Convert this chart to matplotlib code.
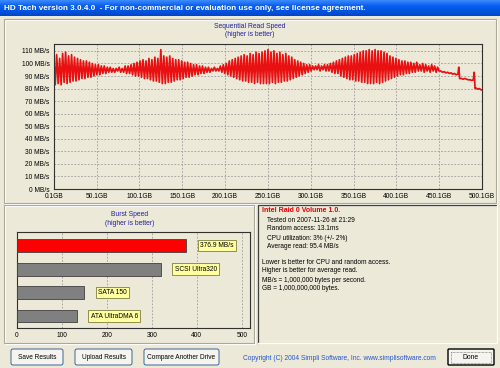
import numpy as np
import matplotlib.pyplot as plt
from matplotlib.patches import Rectangle, FancyBboxPatch
from matplotlib.colors import LinearSegmentedColormap

plt.rcParams['font.family'] = ['Liberation Sans', 'DejaVu Sans']

# sequential read, one peak and one trough reading per cycle (MB/s), 0.1GB .. ~450GB
seq_peaks = [105, 107, 104, 108, 109, 106, 107, 105, 104, 103,
             102, 102, 101, 100, 99, 99, 98, 98, 97, 97,
             96, 96, 97, 96, 98, 98, 99, 100, 101, 102,
             103, 102, 104, 103, 105, 104, 111, 106, 105, 106,
             104, 103, 103, 102, 101, 101, 100, 99, 99, 98,
             98, 97, 97, 96, 97, 96, 98, 99, 100, 102,
             103, 104, 105, 106, 107, 106, 108, 107, 109, 108,
             109, 110, 111, 109, 110, 108, 109, 107, 108, 106,
             105, 103, 102, 101, 100, 99, 99, 98, 98, 99,
             98, 99, 99, 100, 101, 102, 103, 104, 105, 106,
             106, 107, 108, 109, 110, 110, 111, 110, 111, 110,
             110, 109, 108, 106, 105, 104, 103, 102, 102, 101,
             101, 100, 101, 99, 100, 99, 98, 99, 98, 97]
seq_troughs = [83, 84, 83, 85, 84, 85, 86, 86, 87, 88,
               88, 89, 89, 90, 91, 91, 92, 92, 93, 93,
               93, 94, 93, 93, 92, 92, 91, 90, 90, 89,
               88, 88, 87, 86, 86, 85, 84, 84, 85, 85,
               86, 87, 87, 88, 89, 89, 90, 91, 91, 92,
               92, 93, 93, 94, 94, 94, 93, 92, 91, 90,
               89, 88, 87, 86, 86, 85, 85, 84, 85, 84,
               84, 84, 84, 85, 84, 85, 85, 86, 86, 87,
               88, 89, 90, 91, 92, 93, 94, 95, 95, 94,
               95, 94, 94, 93, 92, 92, 90, 89, 88, 87,
               87, 86, 86, 85, 85, 84, 84, 84, 85, 84,
               85, 86, 87, 88, 89, 90, 91, 91, 92, 92,
               93, 93, 94, 94, 93, 94, 93, 94, 93, 94]
# last part of the drive, no oscillation
tail_gb = [452, 454, 456, 458, 460, 462, 464, 466, 468, 470, 472, 473, 474, 476,
           478, 480, 482, 484, 486, 488, 490, 491, 492, 493, 495, 497, 499, 500.1]
tail_mbs = [94, 93, 93.5, 92.5, 93, 92, 92.5, 91.5, 92, 91, 91.5, 97, 88, 88,
            87.5, 88, 87.5, 87, 87, 86.5, 87, 93, 80, 80.5, 79.5, 80, 79, 79]

seq_yticks = [0, 10, 20, 30, 40, 50, 60, 70, 80, 90, 100, 110]
seq_xticks = [0.1, 50.1, 100.1, 150.1, 200.1, 250.1, 300.1, 350.1, 400.1, 450.1, 500.1]

burst_labels = ['376.9 MB/s', 'SCSI Ultra320', 'SATA 150', 'ATA UltraDMA 6']
burst_values = [376.9, 320, 150, 133]
burst_colors = ['#ff0000', '#808080', '#808080', '#808080']

info_head = 'Intel Raid 0 Volume 1.0.'
info_lines = ['Tested on 2007-11-26 at 21:29', 'Random access: 13.1ms',
              'CPU utilization: 3% (+/- 2%)', 'Average read: 95.4 MB/s']
note_lines = ['Lower is better for CPU and random access.', 'Higher is better for average read.',
              'MB/s = 1,000,000 bytes per second.', 'GB = 1,000,000,000 bytes.']
buttons = ['Save Results', 'Upload Results', 'Compare Another Drive']

W, H = 500, 368
BG = '#ece9d8'
fig = plt.figure(figsize=(5, 3.68), dpi=100)
fig.patch.set_facecolor(BG)

bg = fig.add_axes([0, 0, 1, 1])
bg.axis('off')


def px_axes(x0, y0, x1, y1):
    return fig.add_axes([x0 / W, 1 - y1 / H, (x1 - x0) / W, (y1 - y0) / H])


# title bar
cmap = LinearSegmentedColormap.from_list('xp', ['#3c8cfc', '#0c5ff0', '#0054e3', '#0046c8'])
bg.imshow(np.linspace(0, 1, 30)[:, None], extent=(0, W, 16, 0), cmap=cmap, aspect='auto', zorder=0)
bg.text(4, 8, 'HD Tach version 3.0.4.0  - For non-commercial or evaluation use only, see license agreement.',
        color='white', fontsize=5.9, fontweight='bold', va='center', ha='left')
bg.set_xlim(0, W)
bg.set_ylim(H, 0)


def etched(x0, y0, x1, y1):
    bg.add_patch(Rectangle((x0 + 1, y0 + 1), x1 - x0, y1 - y0, fill=False, ec='white', lw=0.8))
    bg.add_patch(Rectangle((x0, y0), x1 - x0, y1 - y0, fill=False, ec='#aca899', lw=0.8))


etched(4, 19, 496, 203)
etched(4, 205, 254, 343)

# info panel (sunken)
bg.add_patch(Rectangle((258, 205), 239, 138, fc=BG, ec='none'))
bg.plot([258, 258, 497], [343, 205, 205], color='#404040', lw=0.9)
bg.plot([258, 497, 497], [343, 343, 205], color='white', lw=0.9)
bg.text(262, 211, info_head, color='#e00000', fontsize=5.0, fontweight='bold', va='center')
for i, s in enumerate(info_lines):
    bg.text(267, 220 + 9 * i, s, fontsize=4.7, va='center')
for i, s in enumerate(note_lines):
    bg.text(262, 262 + 9 * i, s, fontsize=4.7, va='center')

# chart titles
bg.text(250, 27, 'Sequential Read Speed', color='#2020a0', fontsize=4.9, ha='center', va='center')
bg.text(250, 35, '(higher is better)', color='#2020a0', fontsize=4.9, ha='center', va='center')
bg.text(130, 215, 'Burst Speed', color='#2020a0', fontsize=4.9, ha='center', va='center')
bg.text(130, 223.5, '(higher is better)', color='#2020a0', fontsize=4.9, ha='center', va='center')

# buttons
for (x0, x1), s in zip([(11, 63), (75, 132), (144, 219)], buttons):
    bg.add_patch(FancyBboxPatch((x0, 349), x1 - x0, 16, boxstyle='round,pad=0,rounding_size=2',
                                fc='#f5f4ef', ec='#1c4f8a', lw=0.6))
    bg.text((x0 + x1) / 2, 357.5, s, fontsize=4.7, ha='center', va='center')
bg.add_patch(FancyBboxPatch((448, 349), 46, 16, boxstyle='round,pad=0,rounding_size=1',
                            fc='#f5f4ef', ec='#000000', lw=1.0))
bg.add_patch(Rectangle((451, 351.5), 40, 11, fill=False, ec='#606060', lw=0.5, ls=(0, (1, 1))))
bg.text(471, 357.5, 'Done', fontsize=4.9, ha='center', va='center')
bg.text(339, 358, 'Copyright (C) 2004 Simpli Software, Inc. www.simplisoftware.com',
        color='#2255cc', fontsize=4.8, ha='center', va='center')

# sequential read chart
ax = px_axes(53.7, 44, 482, 189)
y = np.column_stack([seq_peaks, seq_troughs]).ravel()
x = np.linspace(0.1, 450, len(y))
ax.plot(np.concatenate([x, tail_gb]), np.concatenate([y, tail_mbs]), color='#e81010', lw=1.25)
ax.set_facecolor(BG)
ax.set_xlim(0.1, 500.1)
ax.set_ylim(0, 115.5)
ax.set_yticks(seq_yticks)
ax.set_yticklabels([f'{v} MB/s' for v in seq_yticks])
ax.set_xticks(seq_xticks)
ax.set_xticklabels([f'{v}GB' for v in seq_xticks])
ax.tick_params(length=0, labelsize=4.8, pad=3)
ax.grid(True, color='#9a9a9a', lw=0.6, ls=(0, (2, 2)))
for sp in ax.spines.values():
    sp.set_color('#303030')
    sp.set_linewidth(0.8)

# burst speed chart
bx = px_axes(16.7, 231.7, 250, 328)
pos = np.arange(len(burst_values))
bx.barh(pos, burst_values, height=0.55, color=burst_colors, edgecolor='#404040', lw=0.6, zorder=3)
for p, v, s in zip(pos, burst_values, burst_labels):
    bx.text(v + 31, p, s, fontsize=4.8, va='center', ha='left', zorder=4,
            bbox=dict(boxstyle='square,pad=0.35', fc='#ffffa0', ec='#808040', lw=0.6))
bx.set_facecolor(BG)
bx.set_xlim(0, 518)
bx.set_ylim(3.51, -0.59)
bx.set_yticks([])
bx.set_xticks([0, 100, 200, 300, 400, 500])
bx.tick_params(length=0, labelsize=4.8, pad=3)
bx.grid(True, axis='x', color='#9a9a9a', lw=0.6, ls=(0, (2, 2)))
for sp in bx.spines.values():
    sp.set_color('#303030')
    sp.set_linewidth(0.8)

fig.savefig('out.png', dpi=100, facecolor=BG)
